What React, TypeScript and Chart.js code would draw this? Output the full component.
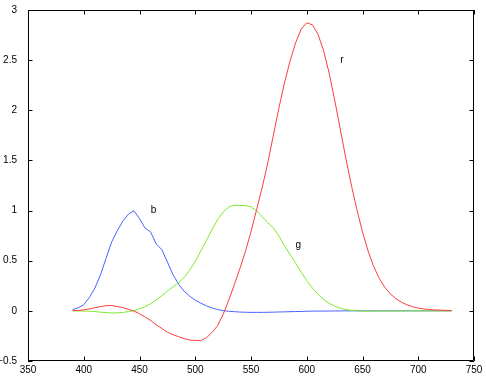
import React, { useEffect, useRef } from "react";
import { Chart, registerables } from "chart.js";

Chart.register(...registerables);

const wavelengths = [
  390, 395, 400, 405, 410, 415, 420, 425, 430, 435, 440, 445, 450, 455, 460, 465, 470, 475, 480, 485,
  490, 495, 500, 505, 510, 515, 520, 525, 530, 535, 540, 545, 550, 555, 560, 565, 570, 575, 580, 585,
  590, 595, 600, 605, 610, 615, 620, 625, 630, 635, 640, 645, 650, 655, 660, 665, 670, 675, 680, 685,
  690, 695, 700, 705, 710, 715, 720, 725, 730,
];

const rValues = [
  0.002, 0.005, 0.01, 0.019, 0.031, 0.042, 0.052, 0.053, 0.044, 0.032, 0.015, -0.002, -0.029, -0.061, -0.096, -0.138, -0.175, -0.213, -0.238, -0.257,
  -0.277, -0.291, -0.295, -0.297, -0.268, -0.217, -0.148, -0.035, 0.106, 0.26, 0.42, 0.593, 0.79, 1.008, 1.228, 1.473, 1.748, 2.021, 2.272, 2.49,
  2.673, 2.809, 2.872, 2.853, 2.76, 2.599, 2.374, 2.105, 1.815, 1.525, 1.254, 1.008, 0.786, 0.597, 0.443, 0.324, 0.235, 0.169, 0.121, 0.086,
  0.06, 0.041, 0.028, 0.019, 0.013, 0.009, 0.007, 0.005, 0.003,
];

const gValues = [
  0.0, -0.001, -0.002, -0.004, -0.007, -0.013, -0.017, -0.021, -0.02, -0.016, -0.007, 0.001, 0.02, 0.043, 0.071, 0.11, 0.151, 0.198, 0.24, 0.28,
  0.334, 0.405, 0.491, 0.597, 0.702, 0.809, 0.911, 0.985, 1.034, 1.054, 1.051, 1.05, 1.037, 0.998, 0.938, 0.88, 0.828, 0.747, 0.649, 0.563,
  0.477, 0.385, 0.301, 0.229, 0.166, 0.114, 0.075, 0.047, 0.026, 0.013, 0.005, 0.0, -0.002, -0.003, -0.003, -0.002, -0.002, -0.001, -0.001, -0.001,
  -0.001, 0.0, 0.0, 0.0, 0.0, 0.0, 0.0, 0.0, 0.0,
];

const bValues = [
  0.012, 0.031, 0.062, 0.132, 0.228, 0.359, 0.524, 0.686, 0.796, 0.895, 0.964, 0.998, 0.919, 0.825, 0.786, 0.667, 0.611, 0.488, 0.362, 0.266,
  0.196, 0.147, 0.107, 0.077, 0.05, 0.029, 0.013, 0.002, -0.004, -0.008, -0.012, -0.014, -0.015, -0.015, -0.015, -0.014, -0.013, -0.011, -0.01, -0.008,
  -0.007, -0.006, -0.004, -0.003, -0.002, -0.002, -0.002, -0.001, -0.001, 0.0, 0.0, 0.0, 0.0, 0.0, 0.0, 0.0, 0.0, 0.0, 0.0, 0.0,
  0.0, 0.0, 0.0, 0.0, 0.0, 0.0, 0.0, 0.0, 0.0,
];

const xTicks = [350, 400, 450, 500, 550, 600, 650, 700, 750];
const yTicks = [-0.5, 0, 0.5, 1, 1.5, 2, 2.5, 3];

const labelTexts = ["b", "g", "r"];
const labelX = [460, 590, 630];
const labelY = [1, 0.65, 2.5];

const FONT = "Liberation Sans, Arial, Helvetica, sans-serif";

function toPoints(values: number[]) {
  return wavelengths.map((w, i) => ({ x: w, y: values[i] }));
}

const boxPlugin = {
  id: "matlabBox",
  afterDraw(chart: any) {
    const ctx = chart.ctx;
    const xs = chart.scales.x;
    const ys = chart.scales.y;
    const { left, right, top, bottom } = chart.chartArea;
    const tl = 4.5;
    ctx.save();
    ctx.strokeStyle = "#000";
    ctx.lineWidth = 1;
    ctx.beginPath();
    ctx.rect(left + 0.5, top + 0.5, right - left - 1, bottom - top - 1);
    ctx.stroke();
    ctx.beginPath();
    for (const v of xTicks) {
      const px = Math.round(xs.getPixelForValue(v)) + 0.5;
      ctx.moveTo(px, bottom);
      ctx.lineTo(px, bottom - tl);
      ctx.moveTo(px, top);
      ctx.lineTo(px, top + tl);
    }
    for (const v of yTicks) {
      const py = Math.round(ys.getPixelForValue(v)) + 0.5;
      ctx.moveTo(left, py);
      ctx.lineTo(left + tl, py);
      ctx.moveTo(right, py);
      ctx.lineTo(right - tl, py);
    }
    ctx.stroke();
    ctx.fillStyle = "#000";
    ctx.font = `10px ${FONT}`;
    ctx.textAlign = "left";
    ctx.textBaseline = "middle";
    labelTexts.forEach((t, i) => {
      ctx.fillText(t, xs.getPixelForValue(labelX[i]), ys.getPixelForValue(labelY[i]));
    });
    ctx.restore();
  },
};

export default function App() {
  const ref = useRef<HTMLCanvasElement | null>(null);
  useEffect(() => {
    if (!ref.current) return;
    const chart = new Chart(ref.current, {
      type: "line",
      data: {
        datasets: [
          { label: "r", data: toPoints(rValues), borderColor: "#ff3c3c", borderWidth: 1, pointRadius: 0, fill: false, tension: 0 },
          { label: "g", data: toPoints(gValues), borderColor: "#7fea2a", borderWidth: 1, pointRadius: 0, fill: false, tension: 0 },
          { label: "b", data: toPoints(bValues), borderColor: "#4a62ff", borderWidth: 1, pointRadius: 0, fill: false, tension: 0 },
        ],
      },
      options: {
        animation: false,
        responsive: false,
        events: [],
        layout: { padding: { left: 0, right: 12, top: 10, bottom: 0 } },
        plugins: { legend: { display: false }, tooltip: { enabled: false } },
        scales: {
          x: {
            type: "linear",
            min: 350,
            max: 750,
            afterBuildTicks: (s: any) => {
              s.ticks = xTicks.map((v) => ({ value: v }));
            },
            ticks: {
              color: "#000",
              font: { family: FONT, size: 10 },
              padding: -5,
              maxRotation: 0,
              autoSkip: false,
              callback: (v: any) => String(v),
            },
            grid: { display: false },
            border: { display: false },
            afterFit: (s: any) => {
              s.height = 18;
            },
          },
          y: {
            type: "linear",
            min: -0.5,
            max: 3,
            afterBuildTicks: (s: any) => {
              s.ticks = yTicks.map((v) => ({ value: v }));
            },
            ticks: {
              color: "#000",
              font: { family: FONT, size: 10 },
              padding: 3,
              autoSkip: false,
              callback: (v: any) => String(v).replace("-", "\u2212"),
            },
            grid: { display: false },
            border: { display: false },
            afterFit: (s: any) => {
              s.width = 28;
            },
          },
        },
      },
      plugins: [boxPlugin],
    });
    return () => chart.destroy();
  }, []);
  return (
    <div style={{ position: "absolute", left: 0, top: 0, width: 486, height: 379, background: "#fff" }}>
      <canvas ref={ref} width={486} height={379} style={{ display: "block" }} />
    </div>
  );
}
